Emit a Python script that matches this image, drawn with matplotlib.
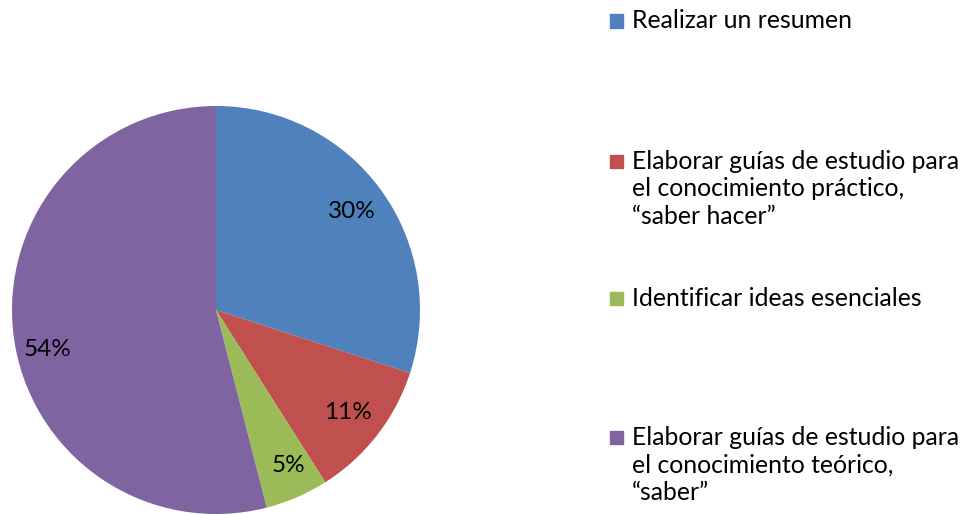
import matplotlib
matplotlib.use("Agg")
import matplotlib.pyplot as plt
from matplotlib.patches import Rectangle
import numpy as np

plt.rcParams["font.family"] = ["Lato", "DejaVu Sans"]

labels = [
    "Realizar un resumen",
    "Elaborar guías de estudio para\nel conocimiento práctico,\n“saber hacer”",
    "Identificar ideas esenciales",
    "Elaborar guías de estudio para\nel conocimiento teórico,\n“saber”",
]
values = [30, 11, 5, 54]
colors = ["#4F81BD", "#C0504D", "#9BBB59", "#8064A2"]

W, H = 966, 515
fig = plt.figure(figsize=(W / 100, H / 100), dpi=100)

# pie: center (216, 310) px, radius 204 px
cx, cy, r = 216, 310, 204
ax = fig.add_axes([(cx - r) / W, (H - cy - r) / H, 2 * r / W, 2 * r / H])
wedges, _, autotexts = ax.pie(
    values, colors=colors, startangle=90, counterclock=False,
    autopct=lambda p: f"{p:.0f}%", pctdistance=0.82,
    textprops={"fontsize": 17.5, "color": "black"},
)
# Excel "best fit" puts the big slice label a bit lower
ang = np.deg2rad(193)
autotexts[3].set_position((0.85 * np.cos(ang), 0.85 * np.sin(ang)))
ang = np.deg2rad(-65)
autotexts[2].set_position((0.84 * np.cos(ang), 0.84 * np.sin(ang)))
ax.set_xlim(-1, 1)
ax.set_ylim(-1, 1)
ax.set_aspect("equal")
ax.axis("off")

# legend, placed by hand like the Excel layout
text_x = 632
first_line_y = [21, 161, 298, 437]
line_h = 28
for wedge, lab, y in zip(wedges, labels, first_line_y):
    nlines = lab.count("\n") + 1
    yc = y + (nlines - 1) * line_h / 2
    fig.text(text_x / W, 1 - yc / H, lab, fontsize=17.8, va="center", ha="left",
             linespacing=1.26)
    sq = 13
    fig.patches.append(Rectangle((610 / W, 1 - (y + sq / 2) / H), sq / W, sq / H,
                                 transform=fig.transFigure, color=wedge.get_facecolor(),
                                 figure=fig))

fig.savefig("out.png", dpi=100)
